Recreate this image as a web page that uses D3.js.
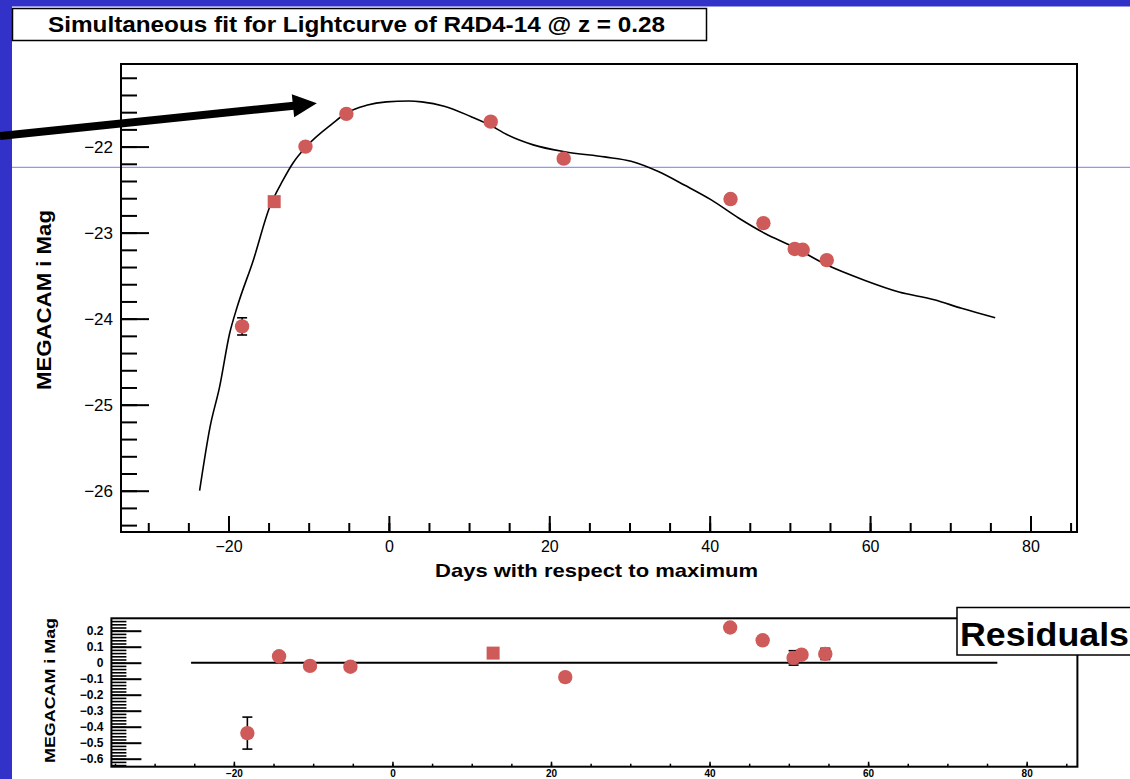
<!DOCTYPE html>
<html>
<head>
<meta charset="utf-8">
<script src="https://cdn.jsdelivr.net/npm/d3@7"></script>
<style>
  body { margin: 0; background: #fff; }
  svg { display: block; }
  text { font-family: "Liberation Sans", Arial, Helvetica, sans-serif; }
</style>
</head>
<body>
<svg id="chart" width="1130" height="779"></svg>
<script>
// ---- Observations: days relative to maximum, MEGACAM i absolute magnitude ----
const obsDays = [-18.3, -14.3, -10.4, -5.3, 12.7, 21.8, 42.6, 46.7, 50.6, 51.6, 54.6];
const obsMag  = [-24.09, -22.64, -22.00, -21.62, -21.71, -22.14, -22.61, -22.89, -23.19, -23.20, -23.32];
const obsErr  = [0.10, 0.03, 0.03, 0.03, 0.03, 0.03, 0.03, 0.03, 0.05, 0.03, 0.04];

// ---- Fit residuals at the same epochs ----
const resVal = [-0.44, 0.04, -0.02, -0.025, 0.06, -0.09, 0.22, 0.14, 0.03, 0.05, 0.055];
const resErr = [0.10, 0.02, 0.02, 0.02, 0.02, 0.02, 0.02, 0.02, 0.045, 0.02, 0.035];

// ---- Fitted light-curve template ----
const fitDays = [-23.6, -22.3, -21.1, -19.85, -18.9, -16.9, -14.85, -13.2, -11.95, -10.3, -7.0, -5.3,
                 -2.8, -0.3, 2.5, 4.1, 6.9, 10.2, 12.6, 14.7, 18.0, 21.9, 26.9, 30.2, 33.6, 36.9,
                 40.2, 43.6, 46.9, 50.3, 54.7, 59.2, 63.6, 68.0, 71.4, 75.6];
const fitMag  = [-26.0, -25.26, -24.79, -24.17, -23.86, -23.32, -22.70, -22.39, -22.19, -22.0, -21.73, -21.61,
                 -21.52, -21.48, -21.47, -21.48, -21.53, -21.65, -21.75, -21.86, -21.98, -22.06, -22.12, -22.17, -22.29, -22.45,
                 -22.62, -22.83, -23.01, -23.16, -23.38, -23.55, -23.69, -23.78, -23.88, -23.99];

// ---- Axis ticks and labels ----
const dayTicks      = [-20, 0, 20, 40, 60, 80];
const dayMinorMain  = d3.range(-30, 86, 5);
const dayMinorRes   = d3.range(-35, 86, 5);
const magTicks      = [-26, -25, -24, -23, -22];
const magMinor      = d3.range(-26.4, -21.1, 0.2);
const resTicks      = [0.2, 0.1, 0, -0.1, -0.2, -0.3, -0.4, -0.5, -0.6];
const resMinor      = d3.range(-0.64, 0.27, 0.02);
const resZeroSpan   = [-25.4, 76.3];

const titleText   = "Simultaneous fit for Lightcurve of R4D4-14 @ z = 0.28";
const xTitle      = "Days with respect to maximum";
const yTitle      = "MEGACAM i Mag";
const resBoxText  = "Residuals";

// Marker shapes: indices drawn as squares in each panel
const squaresMain = new Set([1]);
const squaresRes  = new Set([4]);

// Annotation arrow pointing at the rise to peak (data units of the main panel)
const arrowTail = [-48.5, -21.876];
const arrowTip  = [-8.98, -21.497];

const BLUE = "#3232c8";
const MARK = "#cf5a5a";

const svg = d3.select("#chart");

// ---- Slide background ----
svg.append("rect").attr("x", 0).attr("y", 0).attr("width", 1130).attr("height", 779).attr("fill", "#fff");
svg.append("rect").attr("x", 0).attr("y", 0).attr("width", 1130).attr("height", 6.5).attr("fill", BLUE);
svg.append("rect").attr("x", 0).attr("y", 0).attr("width", 12).attr("height", 779).attr("fill", BLUE);
svg.append("line").attr("x1", 12).attr("x2", 1130).attr("y1", 167.3).attr("y2", 167.3)
  .attr("stroke", "#7b7be8").attr("stroke-width", 1);

// ---- Title box ----
svg.append("rect").attr("x", 12.5).attr("y", 8.5).attr("width", 694).attr("height", 32)
  .attr("fill", "#fff").attr("stroke", "#000").attr("stroke-width", 1.5);
svg.append("text").attr("x", 48).attr("y", 31.5)
  .attr("font-size", 22).attr("font-weight", "bold")
  .attr("textLength", 617).attr("lengthAdjust", "spacingAndGlyphs")
  .text(titleText);

// ================= Main panel =================
const x = d3.scaleLinear().domain([-33.4, 85.8]).range([121, 1077]);
const y = d3.scaleLinear().domain([-26.48, -21.04]).range([532, 64]);

const main = svg.append("g");

function styleAxis(g, width) {
  g.select(".domain").remove();
  g.selectAll(".tick line").attr("stroke", "#000").attr("stroke-width", width);
}

// y axis minor + major ticks (pointing inward)
main.append("g").attr("transform", `translate(${x.range()[0]},0)`)
  .call(d3.axisLeft(y).tickValues(magMinor).tickSize(-16).tickFormat(""))
  .call(g => styleAxis(g, 2));
main.append("g").attr("transform", `translate(${x.range()[0]},0)`)
  .call(d3.axisLeft(y).tickValues(magTicks).tickSize(-28).tickPadding(8).tickFormat(d3.format("d")))
  .call(g => styleAxis(g, 2))
  .call(g => g.selectAll("text").attr("font-size", 17).attr("fill", "#000"));

// x axis minor + major ticks
main.append("g").attr("transform", `translate(0,${y.range()[0]})`)
  .call(d3.axisBottom(x).tickValues(dayMinorMain).tickSize(-9).tickFormat(""))
  .call(g => styleAxis(g, 2));
main.append("g").attr("transform", `translate(0,${y.range()[0]})`)
  .call(d3.axisBottom(x).tickValues(dayTicks).tickSize(-16).tickPadding(9).tickFormat(d3.format("d")))
  .call(g => styleAxis(g, 2))
  .call(g => g.selectAll("text").attr("font-size", 16).attr("fill", "#000"));

// frame
main.append("rect")
  .attr("x", x.range()[0]).attr("y", y.range()[1])
  .attr("width", x.range()[1] - x.range()[0]).attr("height", y.range()[0] - y.range()[1])
  .attr("fill", "none").attr("stroke", "#000").attr("stroke-width", 2);

// axis titles
main.append("text").attr("x", 435).attr("y", 576.5)
  .attr("font-size", 19).attr("font-weight", "bold")
  .attr("textLength", 323).attr("lengthAdjust", "spacingAndGlyphs")
  .text(xTitle);
main.append("text")
  .attr("transform", "translate(51,300) rotate(-90)")
  .attr("text-anchor", "middle")
  .attr("font-size", 21).attr("font-weight", "bold")
  .attr("textLength", 180).attr("lengthAdjust", "spacingAndGlyphs")
  .text(yTitle);

// fitted curve
const fitPts = fitDays.map((d, i) => [d, fitMag[i]]);
main.append("path")
  .datum(fitPts)
  .attr("fill", "none").attr("stroke", "#000").attr("stroke-width", 1.6)
  .attr("d", d3.line().x(d => x(d[0])).y(d => y(d[1])).curve(d3.curveMonotoneX));

// error bars, then markers
function drawPoints(g, xs, ys, days, vals, errs, squares) {
  const pts = days.map((d, i) => ({ d, v: vals[i], e: errs[i], sq: squares.has(i) }));
  const eb = g.append("g").attr("stroke", "#000").attr("stroke-width", 1.6);
  pts.forEach(p => {
    const cx = xs(p.d), y1 = ys(p.v - p.e), y2 = ys(p.v + p.e);
    eb.append("line").attr("x1", cx).attr("x2", cx).attr("y1", y1).attr("y2", y2);
    eb.append("line").attr("x1", cx - 5).attr("x2", cx + 5).attr("y1", y1).attr("y2", y1);
    eb.append("line").attr("x1", cx - 5).attr("x2", cx + 5).attr("y1", y2).attr("y2", y2);
  });
  g.selectAll("circle.pt").data(pts.filter(p => !p.sq)).join("circle")
    .attr("class", "pt").attr("cx", p => xs(p.d)).attr("cy", p => ys(p.v))
    .attr("r", 7.2).attr("fill", MARK);
  g.selectAll("rect.pt").data(pts.filter(p => p.sq)).join("rect")
    .attr("class", "pt").attr("x", p => xs(p.d) - 6.5).attr("y", p => ys(p.v) - 6.5)
    .attr("width", 13).attr("height", 13).attr("fill", MARK);
}
drawPoints(main.append("g"), x, y, obsDays, obsMag, obsErr, squaresMain);

// annotation arrow
{
  const [tx0, ty0] = [x(arrowTail[0]), y(arrowTail[1])];
  const [tx1, ty1] = [x(arrowTip[0]), y(arrowTip[1])];
  const len = Math.hypot(tx1 - tx0, ty1 - ty0);
  const ux = (tx1 - tx0) / len, uy = (ty1 - ty0) / len;
  const headLen = 24, headHalf = 11.5;
  const bx = tx1 - ux * headLen, by = ty1 - uy * headLen;
  svg.append("line").attr("x1", tx0).attr("y1", ty0).attr("x2", bx + ux).attr("y2", by + uy)
    .attr("stroke", "#000").attr("stroke-width", 8);
  svg.append("path")
    .attr("d", `M${tx1},${ty1} L${bx - uy * headHalf},${by + ux * headHalf} L${bx + uy * headHalf},${by - ux * headHalf} Z`)
    .attr("fill", "#000");
}

// ================= Residual panel =================
const xr = d3.scaleLinear().domain([-35.45, 86.4]).range([111.4, 1077.4]);
const yr = d3.scaleLinear().domain([-0.65, 0.2775]).range([766.7, 618.3]);

const res = svg.append("g");

res.append("g").attr("transform", `translate(${xr.range()[0]},0)`)
  .call(d3.axisLeft(yr).tickValues(resMinor).tickSize(-15).tickFormat(""))
  .call(g => styleAxis(g, 1.6));
res.append("g").attr("transform", `translate(${xr.range()[0]},0)`)
  .call(d3.axisLeft(yr).tickValues(resTicks).tickSize(-30).tickPadding(8).tickFormat(d => d3.format("")(+d.toFixed(1))))
  .call(g => styleAxis(g, 2))
  .call(g => g.selectAll("text").attr("font-size", 12).attr("font-weight", "bold").attr("fill", "#000"));

res.append("g").attr("transform", `translate(0,${yr.range()[0]})`)
  .call(d3.axisBottom(xr).tickValues(dayMinorRes).tickSize(-3).tickFormat(""))
  .call(g => styleAxis(g, 1.5));
res.append("g").attr("transform", `translate(0,${yr.range()[0]})`)
  .call(d3.axisBottom(xr).tickValues(dayTicks).tickSize(-5).tickPadding(3).tickFormat(d3.format("d")))
  .call(g => styleAxis(g, 1.5))
  .call(g => g.selectAll("text").attr("font-size", 10).attr("font-weight", "bold").attr("fill", "#000"));

res.append("rect")
  .attr("x", xr.range()[0]).attr("y", yr.range()[1])
  .attr("width", xr.range()[1] - xr.range()[0]).attr("height", yr.range()[0] - yr.range()[1])
  .attr("fill", "none").attr("stroke", "#000").attr("stroke-width", 2);

// zero-residual reference line
res.append("line")
  .attr("x1", xr(resZeroSpan[0])).attr("x2", xr(resZeroSpan[1]))
  .attr("y1", yr(0)).attr("y2", yr(0))
  .attr("stroke", "#000").attr("stroke-width", 2);

res.append("text")
  .attr("transform", "translate(55,690.5) rotate(-90)")
  .attr("text-anchor", "middle")
  .attr("font-size", 14).attr("font-weight", "bold")
  .attr("textLength", 145).attr("lengthAdjust", "spacingAndGlyphs")
  .text(yTitle);

drawPoints(res.append("g"), xr, yr, obsDays, resVal, resErr, squaresRes);

// "Residuals" label box
res.append("rect").attr("x", 957).attr("y", 607.5).attr("width", 200).attr("height", 47.5)
  .attr("fill", "#fff").attr("stroke", "#000").attr("stroke-width", 1.5);
res.append("text").attr("x", 960).attr("y", 646)
  .attr("font-size", 33).attr("font-weight", "bold")
  .attr("textLength", 169).attr("lengthAdjust", "spacingAndGlyphs")
  .text(resBoxText);
</script>
</body>
</html>
